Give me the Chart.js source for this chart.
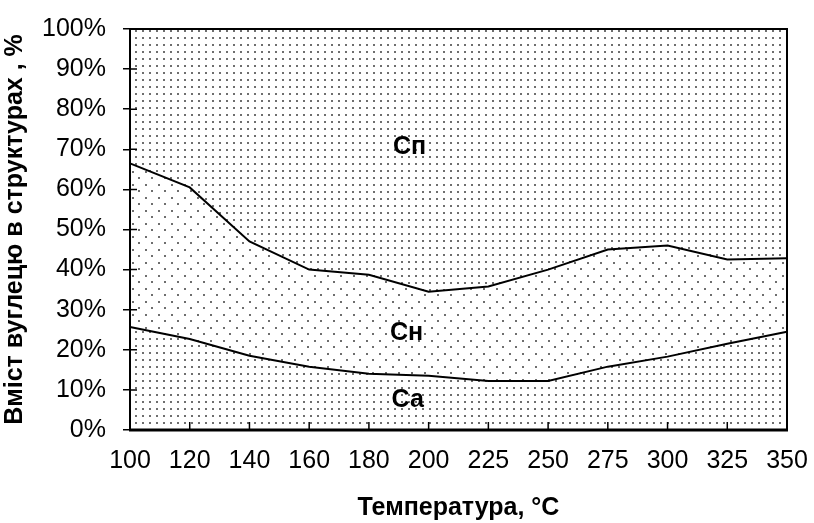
<!DOCTYPE html>
<html>
<head>
<meta charset="utf-8">
<script src="https://cdn.jsdelivr.net/npm/chart.js@4"></script>
<style>
  html, body { margin: 0; padding: 0; background: #fff; }
</style>
</head>
<body>
<canvas id="chart" width="814" height="523"></canvas>
<script>
// температура, °C
var temperatures = ["100", "120", "140", "160", "180", "200", "225", "250", "275", "300", "325", "350"];
// вміст вуглецю у структурах, %
var ca = [25.7, 22.7, 18.5, 15.8, 14.0, 13.5, 12.2, 12.2, 15.8, 18.3, 21.5, 24.5];
var cn = [40.8, 37.8, 28.5, 24.2, 24.7, 21.0, 23.6, 27.8, 29.2, 27.7, 21.0, 18.3];
var cp = [33.5, 39.5, 53.0, 60.0, 61.3, 65.5, 64.2, 60.0, 55.0, 54.0, 57.5, 57.2];
var yTicks = [0, 10, 20, 30, 40, 50, 60, 70, 80, 90, 100];

// підписи областей (індекс категорії, значення %)
var areaLabels = [
  { text: "Сп", x: 4.68, y: 70.6 },
  { text: "Сн", x: 4.63, y: 24.2 },
  { text: "Са", x: 4.65, y: 7.5 }
];

var FONT = "'Liberation Sans', Arial, sans-serif";

function makePattern(size, dots) {
  var c = document.createElement("canvas");
  c.width = size; c.height = size;
  var g = c.getContext("2d");
  g.fillStyle = "#fff";
  g.fillRect(0, 0, size, size);
  g.fillStyle = "#6e6e6e";
  dots.forEach(function (d) { g.fillRect(d[0], d[1], 2, 2); });
  return g.createPattern(c, "repeat");
}

var ctx = document.getElementById("chart").getContext("2d");
var densePattern = makePattern(7, [[2, 2]]);
var sparsePattern = makePattern(13, [[2, 2], [8, 8]]);

var framePlugin = {
  id: "frame",
  afterDatasetsDraw: function (chart) {
    var a = chart.chartArea, c = chart.ctx;
    var xs = chart.scales.x, ys = chart.scales.y;
    c.save();
    c.strokeStyle = "#000";
    // внутрішні позначки на осі X
    c.lineWidth = 1.5;
    c.beginPath();
    for (var i = 0; i < temperatures.length; i++) {
      var px = xs.getPixelForTick(i);
      c.moveTo(px, a.bottom); c.lineTo(px, a.bottom - 8);
    }
    // позначки на осі Y (внутрішня частина)
    for (var j = 0; j < yTicks.length; j++) {
      var py = ys.getPixelForValue(yTicks[j]);
      c.moveTo(a.left, py); c.lineTo(a.left + 7, py);
    }
    c.stroke();
    // рамка
    c.lineWidth = 2;
    c.beginPath();
    c.moveTo(a.left, a.bottom); c.lineTo(a.left, a.top); c.lineTo(a.right, a.top); c.lineTo(a.right, a.bottom);
    c.stroke();
    c.lineWidth = 3;
    c.beginPath();
    c.moveTo(a.left - 1, a.bottom); c.lineTo(a.right + 1, a.bottom);
    c.stroke();
    // підписи
    c.fillStyle = "#000";
    c.font = "bold 25px " + FONT;
    c.textAlign = "center";
    c.textBaseline = "middle";
    areaLabels.forEach(function (l) {
      var x0 = xs.getPixelForValue(Math.floor(l.x));
      var x1 = xs.getPixelForValue(Math.ceil(l.x));
      var px = x0 + (x1 - x0) * (l.x - Math.floor(l.x));
      c.fillText(l.text, px, ys.getPixelForValue(l.y));
    });
    c.restore();
  }
};

new Chart(ctx, {
  type: "line",
  data: {
    labels: temperatures,
    datasets: [
      { label: "Са", data: ca, fill: "origin", backgroundColor: densePattern, borderColor: "#000", borderWidth: 2, pointRadius: 0, tension: 0 },
      { label: "Сн", data: cn, fill: "-1", backgroundColor: sparsePattern, borderColor: "#000", borderWidth: 2, pointRadius: 0, tension: 0 },
      { label: "Сп", data: cp, fill: "-1", backgroundColor: densePattern, borderColor: "rgba(0,0,0,0)", borderWidth: 0, pointRadius: 0, tension: 0 }
    ]
  },
  options: {
    responsive: false,
    animation: false,
    layout: { padding: { left: 0, right: 27, top: 29, bottom: 0 } },
    plugins: {
      legend: { display: false },
      tooltip: { enabled: false }
    },
    scales: {
      x: {
        offset: false,
        grid: { display: true, drawOnChartArea: false, drawTicks: false, color: "#000" },
        border: { display: false },
        ticks: { color: "#000", padding: 16, maxRotation: 0, autoSkip: false, font: { family: FONT, size: 25 } },
        title: { display: true, text: "Температура, °C", color: "#000", padding: { top: 10, bottom: 0 }, font: { family: FONT, size: 25, weight: "bold" } },
        afterFit: function (s) { s.height = 93; s.paddingLeft = 0; s.paddingRight = 0; }
      },
      y: {
        stacked: true,
        min: 0,
        max: 100,
        afterBuildTicks: function (s) { s.ticks = yTicks.map(function (v) { return { value: v }; }); },
        grid: { display: true, drawOnChartArea: false, drawTicks: true, tickLength: 7, color: "#000", lineWidth: 1.5 },
        border: { display: false },
        ticks: { color: "#000", padding: 17, font: { family: FONT, size: 25 }, callback: function (v) { return v + "%"; } },
        title: { display: true, text: "Вміст вуглецю в структурах , %", color: "#000", padding: { top: 0, bottom: 2 }, font: { family: FONT, size: 25, weight: "bold" } },
        afterFit: function (s) { s.width = 130; s.paddingTop = 0; s.paddingBottom = 0; }
      }
    }
  },
  plugins: [framePlugin]
});
</script>
</body>
</html>
